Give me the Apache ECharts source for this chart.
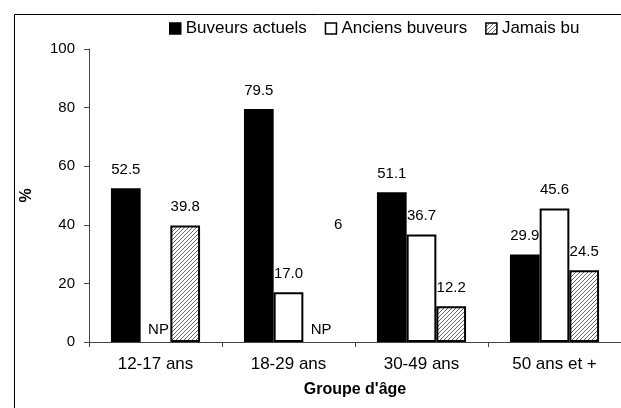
<!DOCTYPE html>
<html>
<head>
<meta charset="utf-8">
<script src="https://cdn.jsdelivr.net/npm/echarts@6/dist/echarts.min.js"></script>
<style>
  html, body { margin: 0; padding: 0; background: #fff; }
  #chart { width: 621px; height: 408px; }
</style>
</head>
<body>
<div id="chart"></div>
<script>
const categories = ['12-17 ans', '18-29 ans', '30-49 ans', '50 ans et +'];
const seriesNames = ['Buveurs actuels', 'Anciens buveurs', 'Jamais bu'];
// null = NP (non pertinent)
const buveursActuels = [52.5, 79.5, 51.1, 29.9];
const anciensBuveurs = [null, 17.0, 36.7, 45.6];
const jamaisBu = [39.8, null, 12.2, 24.5];
const yTicks = { min: 0, max: 100, interval: 20 };
const strayLabel = { category: '18-29 ans', value: 40, text: '6' };

const font = 'Liberation Sans, Arial, sans-serif';
const textColor = '#000';

// hachures pour "Jamais bu"
function hatch() {
    const c = document.createElement('canvas');
    c.width = 4; c.height = 4;
    const g = c.getContext('2d');
    g.fillStyle = '#fff';
    g.fillRect(0, 0, 4, 4);
    g.strokeStyle = '#666';
    g.lineWidth = 1;
    g.beginPath();
    g.moveTo(0, 4); g.lineTo(4, 0);
    g.moveTo(-1, 1); g.lineTo(1, -1);
    g.moveTo(3, 5); g.lineTo(5, 3);
    g.stroke();
    return c;
}

const fills = ['#000', '#fff', { image: hatch(), repeat: 'repeat' }];

const toData = (arr) => arr.map(v => {
    if (v === null) {
        return {
            value: 0,
            itemStyle: { borderWidth: 0 },
            label: { formatter: 'NP', distance: 5, offset: [3, 0] }
        };
    }
    return v;
});

const myChart = echarts.init(document.getElementById('chart'));

const series = [buveursActuels, anciensBuveurs, jamaisBu].map((arr, i) => ({
    name: seriesNames[i],
    type: 'bar',
    barGap: '0%',
    barCategoryGap: '33%',
    data: toData(arr),
    itemStyle: {
        color: fills[i],
        borderColor: '#000',
        borderWidth: 2
    },
    label: {
        show: true,
        position: 'top',
        distance: 11,
        color: textColor,
        fontFamily: font,
        fontSize: 15,
        formatter: (p) => p.value.toFixed(1)
    },
    emphasis: { disabled: true }
}));

series[2].markPoint = {
    symbol: 'circle',
    symbolSize: 0,
    data: [{
        coord: [strayLabel.category, strayLabel.value],
        label: {
            show: true,
            formatter: strayLabel.text,
            position: 'inside',
            offset: [20, 0],
            color: textColor,
            fontFamily: font,
            fontSize: 15
        }
    }]
};

const option = {
    animation: false,
    backgroundColor: '#fff',
    graphic: [{
        type: 'rect',
        shape: { x: 14.5, y: 14.5, width: 700, height: 500 },
        style: { fill: 'none', stroke: '#000', lineWidth: 1 },
        silent: true
    }],
    legend: {
        left: 164,
        top: 15,
        icon: 'rect',
        itemWidth: 11,
        itemHeight: 11,
        itemGap: 18,
        data: seriesNames,
        textStyle: { color: textColor, fontFamily: font, fontSize: 17 },
        itemStyle: { borderColor: '#000', borderWidth: 1.5 }
    },
    grid: {
        left: 89,
        top: 49,
        width: 547,
        height: 293,
        containLabel: false
    },
    xAxis: {
        type: 'category',
        data: categories,
        name: "Groupe d'âge",
        nameLocation: 'middle',
        nameGap: 40,
        nameTextStyle: { color: textColor, fontFamily: font, fontSize: 16, fontWeight: 'bold' },
        axisLine: { lineStyle: { color: '#444', width: 1 } },
        axisTick: { show: true, length: 5, lineStyle: { color: '#444' } },
        axisLabel: { color: textColor, fontFamily: font, fontSize: 17, margin: 14 },
        splitLine: { show: false }
    },
    yAxis: {
        type: 'value',
        min: yTicks.min,
        max: yTicks.max,
        interval: yTicks.interval,
        name: '%',
        nameLocation: 'middle',
        nameGap: 54,
        nameRotate: 90,
        nameTextStyle: { color: textColor, fontFamily: font, fontSize: 16, fontWeight: 'bold' },
        axisLine: { show: true, lineStyle: { color: '#444', width: 1 } },
        axisTick: { show: true, length: 5, lineStyle: { color: '#444' } },
        axisLabel: { color: textColor, fontFamily: font, fontSize: 15, margin: 14 },
        splitLine: { show: false }
    },
    series: series
};

myChart.setOption(option);
</script>
</body>
</html>
